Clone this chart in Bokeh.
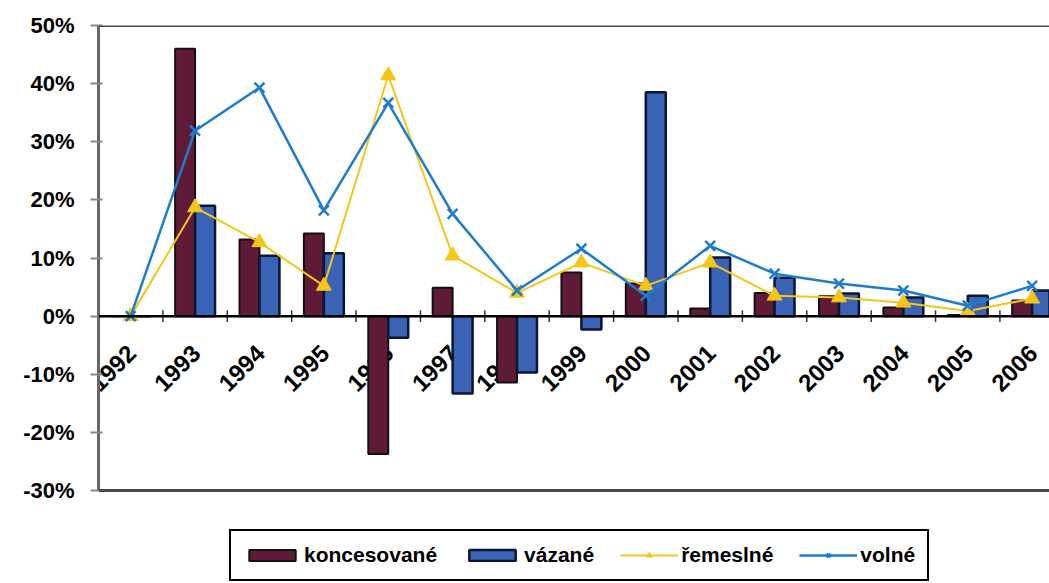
import numpy as np
from bokeh.plotting import figure
from bokeh.core.properties import value
from bokeh.models import (ColumnDataSource, FixedTicker, PrintfTickFormatter, Span,
                          LabelSet, Legend, LegendItem, Range1d)
from bokeh.embed import file_html
from bokeh.resources import INLINE

# Year-on-year change (%) by type of trade licence
years = [str(y) for y in range(1992, 2007)]
koncesovane = [0.0, 46.0, 13.2, 14.2, -23.7, 4.9, -11.4, 7.5, 5.6, 1.3, 4.0, 3.4, 1.5, 0.2, 2.7]
vazane = [0.0, 19.0, 10.4, 10.8, -3.7, -13.3, -9.7, -2.3, 38.5, 10.1, 6.6, 3.9, 3.2, 3.5, 4.4]
remeslne = [0.0, 18.7, 12.7, 5.2, 41.4, 10.4, 4.0, 9.2, 5.2, 9.2, 3.5, 3.2, 2.3, 0.9, 3.0]
volne = [0.0, 31.9, 39.3, 18.2, 36.7, 17.6, 4.4, 11.6, 3.5, 12.1, 7.3, 5.6, 4.4, 1.8, 5.2]
y_ticks = [-30, -20, -10, 0, 10, 20, 30, 40, 50]

FONT = "Liberation Sans"
n = len(years)
x = np.arange(n)
bar_w = 0.31

# the frame runs down to the canvas bottom so the legend can sit inside it
W, H, TOP, LEFT = 1049, 583, 25, 98
px_per_unit = (H - TOP - 93) / (y_ticks[-1] - y_ticks[0])
y_low = y_ticks[0] - 93 / px_per_unit

src = ColumnDataSource(dict(
    x=x, year=years, zero=[0] * n,
    x_kon=x - bar_w / 2, x_vaz=x + bar_w / 2,
    kon=koncesovane, vaz=vazane, rem=remeslne, vol=volne,
))

p = figure(width=W, height=H, output_backend="svg", toolbar_location=None,
           x_range=Range1d(-0.5, 14.27), y_range=Range1d(y_low, y_ticks[-1]),
           x_axis_location=None,
           min_border_left=LEFT, min_border_right=0, min_border_top=TOP, min_border_bottom=0)
p.background_fill_color = "white"
p.border_fill_color = "white"
p.outline_line_color = None
p.xgrid.visible = False
p.ygrid.visible = False

# value axis
ax = p.yaxis[0]
ax.bounds = (y_ticks[0], y_ticks[-1])
ax.ticker = FixedTicker(ticks=y_ticks)
ax.formatter = PrintfTickFormatter(format="%d%%")
ax.major_label_text_font = FONT
ax.major_label_text_font_size = "22px"
ax.major_label_text_font_style = "bold"
ax.major_label_text_color = "black"
ax.major_label_standoff = 16
ax.axis_line_color = "#666666"
ax.axis_line_width = 3
ax.major_tick_line_color = "#888888"
ax.major_tick_line_width = 2
ax.major_tick_in = 4
ax.major_tick_out = 8
ax.minor_tick_line_color = None

# plot area top / bottom borders
p.add_layout(Span(location=y_ticks[-1], dimension="width", line_color="#4a4a4a", line_width=3))
p.add_layout(Span(location=y_ticks[0], dimension="width", line_color="#4a4a4a", line_width=3))

# rotated year labels just under the zero line, drawn beneath the bars
labels = LabelSet(x="x", y="zero", text="year", source=src, angle=np.pi / 4,
                  text_align="right", text_baseline="top", x_offset=-5, y_offset=-27,
                  text_font=value(FONT), text_font_size=value("24px"),
                  text_font_style="bold", text_color="black", level="underlay")
p.add_layout(labels)

# bars
r_kon = p.vbar(x="x_kon", top="kon", width=bar_w, source=src,
               fill_color="#5E1A37", line_color="#111111", line_width=2)
r_vaz = p.vbar(x="x_vaz", top="vaz", width=bar_w, source=src,
               fill_color="#3A62B5", line_color="#0B1630", line_width=2.5)

# category axis through zero with tick marks between categories
p.add_layout(Span(location=0, dimension="width", line_color="black", line_width=2.5))
bounds = x + 0.5
p.segment(x0=bounds, y0=[-1.0] * n, x1=bounds, y1=[1.0] * n,
          line_color="#333333", line_width=1.5)

# lines
r_rem_l = p.line(x="x", y="rem", source=src, line_color="#F5C518", line_width=2)
r_rem_m = p.scatter(x="x", y="rem", source=src, marker="triangle", size=15,
                    fill_color="#F5C518", line_color="#F5C518")
r_vol_l = p.line(x="x", y="vol", source=src, line_color="#1C7CD0", line_width=2.5)
r_vol_m = p.scatter(x="x", y="vol", source=src, marker="x", size=14,
                    line_color="#1C7CD0", line_width=2.5)

legend = Legend(items=[
    LegendItem(label="koncesované", renderers=[r_kon]),
    LegendItem(label="vázané", renderers=[r_vaz]),
    LegendItem(label="řemeslné", renderers=[r_rem_l, r_rem_m]),
    LegendItem(label="volné", renderers=[r_vol_l, r_vol_m]),
], orientation="horizontal", location=(131, 2), margin=0,
    border_line_color="black", border_line_width=2, border_line_alpha=1.0,
    background_fill_color="white",
    label_text_font=FONT, label_text_font_size="21px", label_text_font_style="bold",
    label_text_color="black",
    glyph_width=58, glyph_height=14, spacing=26, padding=12, label_standoff=3)
p.add_layout(legend)

open("out.html", "w").write(file_html(p, INLINE))
